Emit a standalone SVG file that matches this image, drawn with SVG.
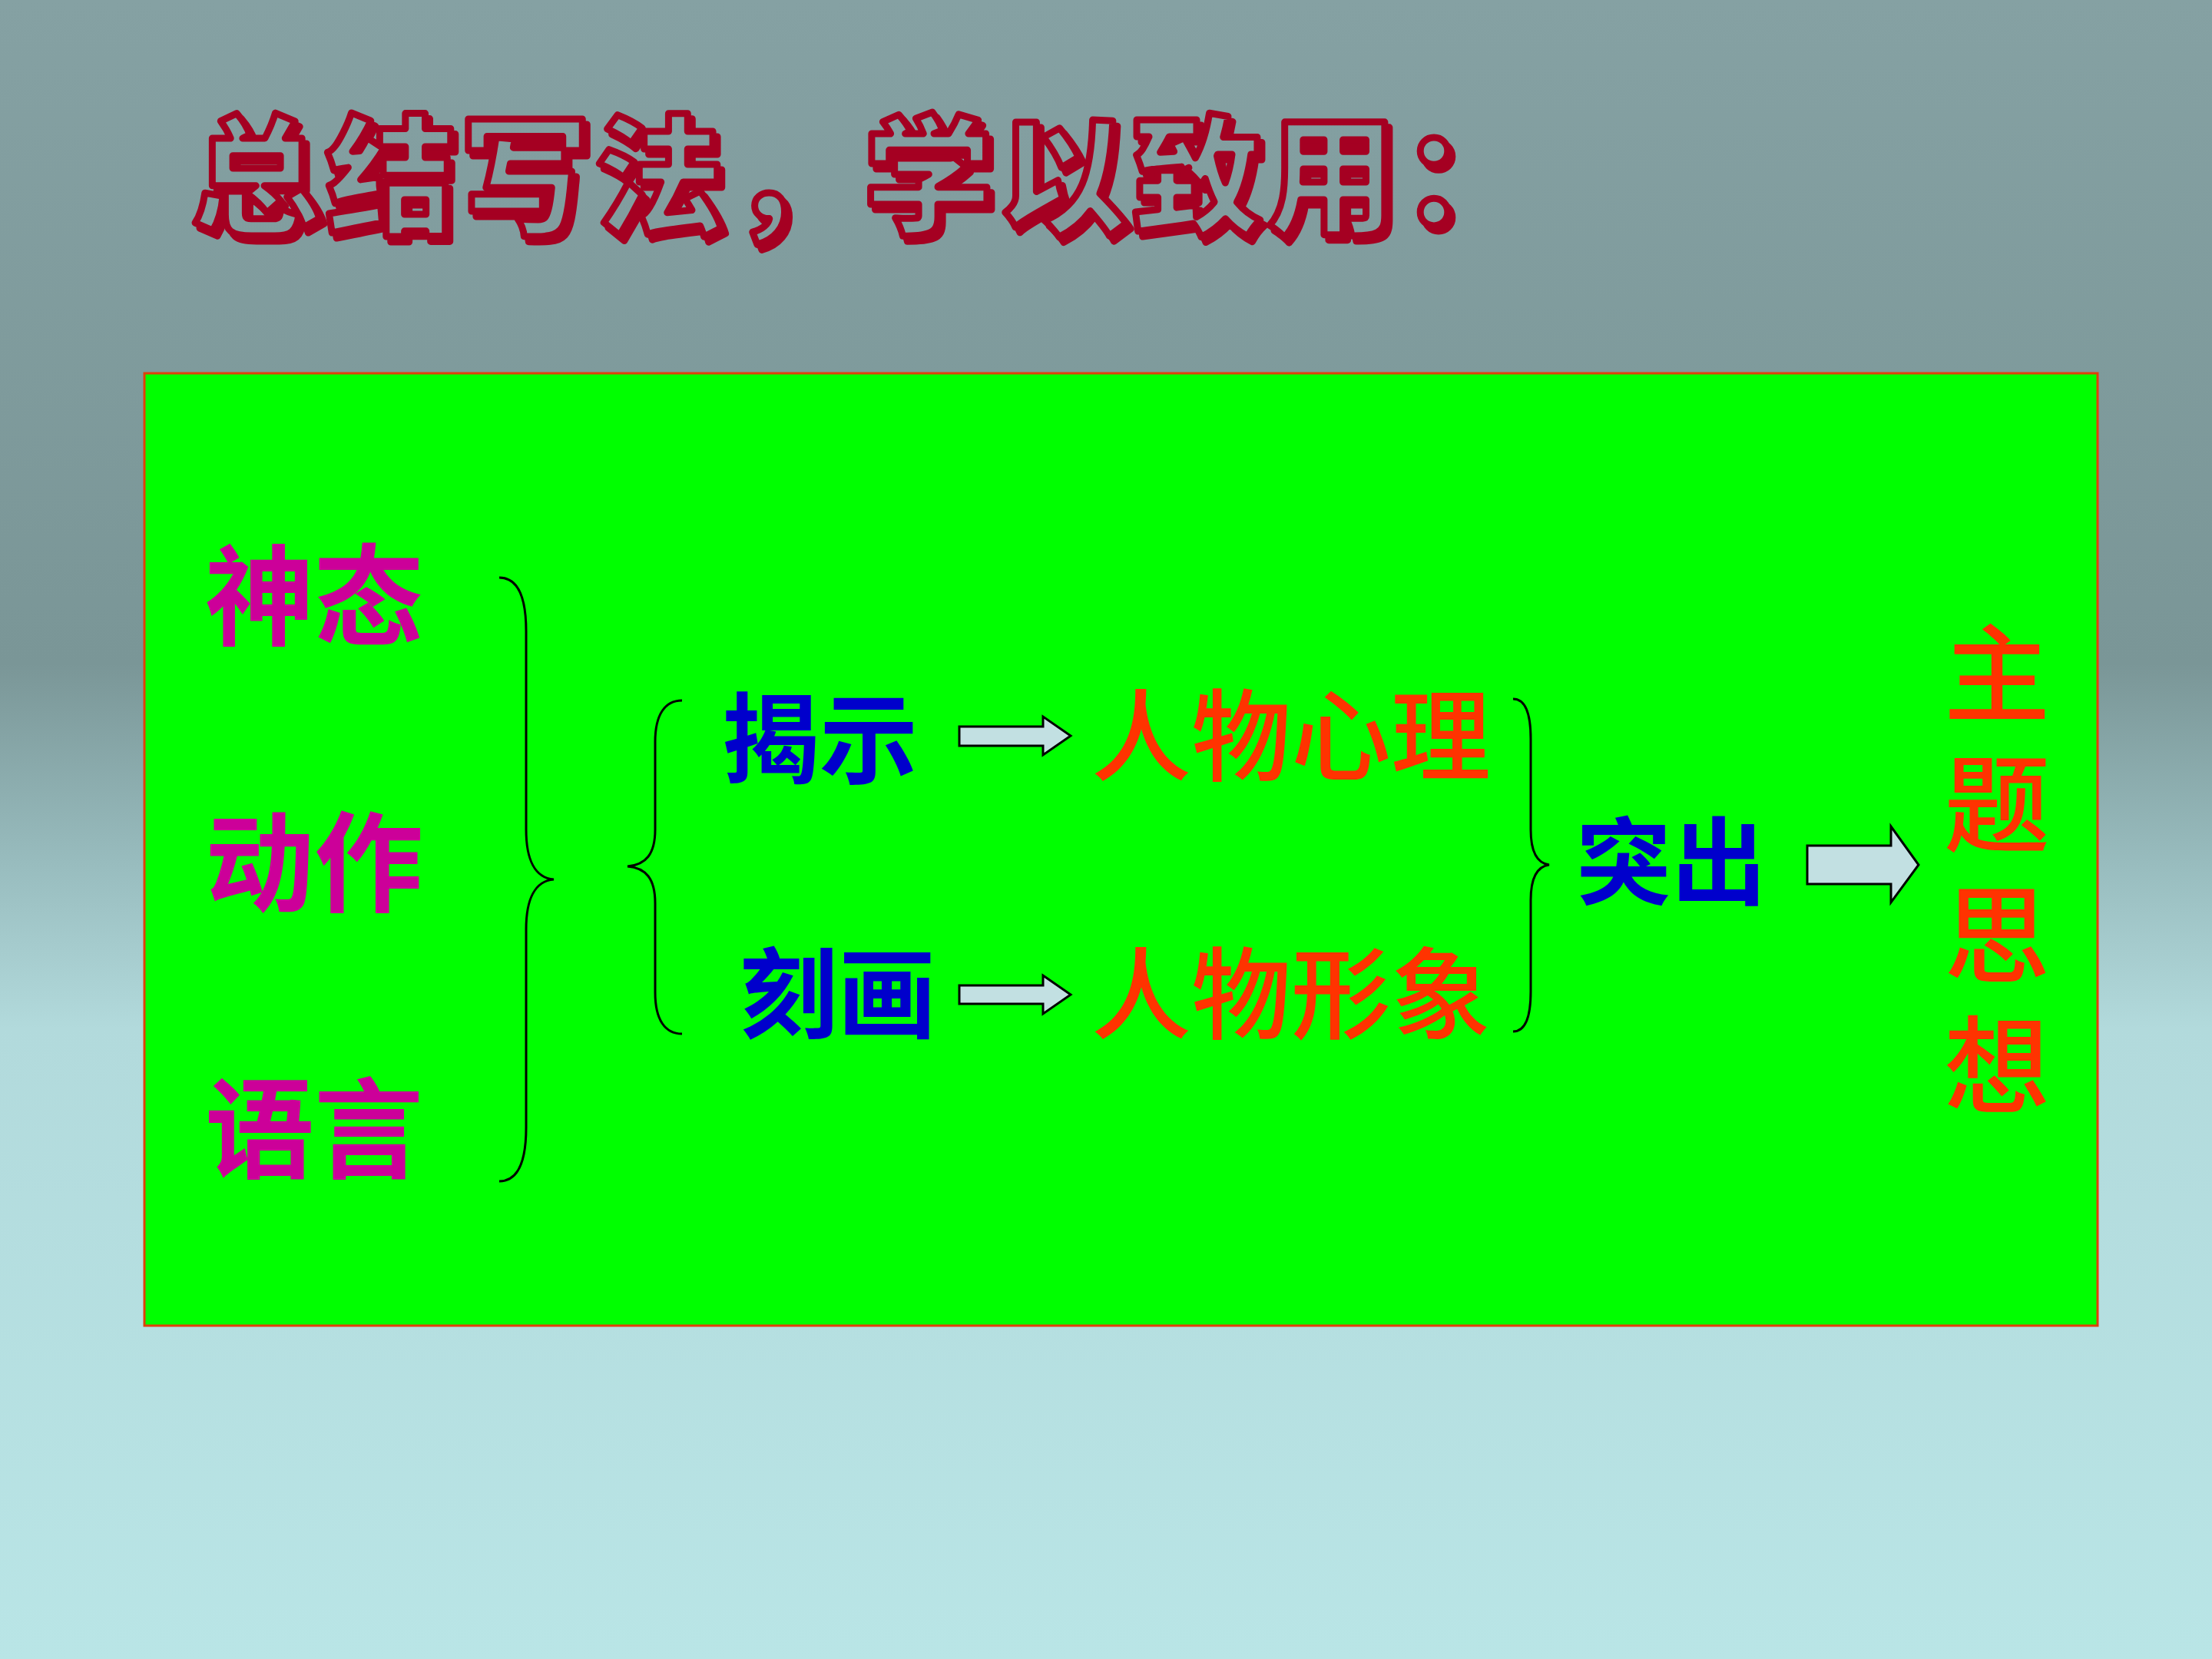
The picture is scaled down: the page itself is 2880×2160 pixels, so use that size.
<svg xmlns="http://www.w3.org/2000/svg" width="2880" height="2160" viewBox="0 0 2880 2160">
  <defs>
    <linearGradient id="bg" gradientUnits="userSpaceOnUse" x1="0" y1="0" x2="0" y2="2160">
      <stop offset="0" stop-color="#85a1a3"/>
      <stop offset="0.40" stop-color="#7a9697"/>
      <stop offset="0.52" stop-color="#98bcbe"/>
      <stop offset="0.62" stop-color="#b2dadc"/>
      <stop offset="1" stop-color="#b9e5e6"/>
    </linearGradient>
    <filter id="shadow" x="-5%" y="-20%" width="110%" height="140%">
      <feFlood flood-color="#a50021" result="c"/>
      <feComposite in="c" in2="SourceAlpha" operator="in" result="s"/>
      <feOffset in="s" dx="6" dy="7" result="o"/>
      <feMerge>
        <feMergeNode in="o"/>
        <feMergeNode in="SourceGraphic"/>
      </feMerge>
    </filter>
    <style>
      .cjk { font-family: "Noto Sans CJK SC", "Noto Sans CJK TC", sans-serif; }
      .title { font-size: 168px; font-weight: 900; letter-spacing: 7px; }
      .mag { fill: #cc0099; font-size: 142px; font-weight: 700; }
      .blue { fill: #0000cc; font-size: 128px; font-weight: 700; }
      .red { fill: #ff3300; font-size: 130px; font-weight: 500; }
      .vert { fill: #ff3300; font-size: 138px; font-weight: 500; }
      .arrow { fill: #c2e0e2; stroke: #000000; stroke-width: 3; stroke-linejoin: miter; }
      .brace { fill: none; stroke: #000000; stroke-width: 3; }
    </style>
  </defs>

  <rect x="0" y="0" width="2880" height="2160" fill="url(#bg)"/>

  <g id="title" class="cjk title">
    <text x="250" y="292" fill="url(#bg)" stroke="#a50021" stroke-width="9" stroke-linejoin="round" filter="url(#shadow)">总结写法，学以致用：</text>
  </g>

  <g id="panel">
    <rect x="188" y="486" width="2543" height="1240" fill="#00ff00" stroke="#e0400a" stroke-width="3"/>
  </g>

  <g id="node-shentai" class="cjk"><text class="mag" x="267" y="829">神态</text></g>
  <g id="node-dongzuo" class="cjk"><text class="mag" x="267" y="1176">动作</text></g>
  <g id="node-yuyan" class="cjk"><text class="mag" x="267" y="1523">语言</text></g>

  <g id="node-jieshi" class="cjk"><text class="blue" x="939" y="1010">揭示</text></g>
  <g id="node-kehua" class="cjk"><text class="blue" x="963" y="1342">刻画</text></g>

  <g id="node-xinli" class="cjk"><text class="red" x="1421" y="1006">人物心理</text></g>
  <g id="node-xingxiang" class="cjk"><text class="red" x="1421" y="1342">人物形象</text></g>

  <g id="node-tuchu" class="cjk"><text class="blue" x="2052" y="1168" style="font-size:124px">突出</text></g>

  <g id="node-zhuti" class="cjk">
    <text class="vert" x="2600" y="807" writing-mode="vertical-rl" style="letter-spacing:32px">主题思想</text>
  </g>

  <g id="connectors">
    <path class="brace" d="M650,752 C673,752 685,776 685,822 L685,1080 C685,1120 697,1143 721,1145 C697,1147 685,1170 685,1210 L685,1468 C685,1514 673,1538 650,1538"/>
    <path class="brace" d="M888,912 C866,912 853,930 853,966 L853,1080 C853,1112 841,1126 817,1128 C841,1130 853,1144 853,1176 L853,1292 C853,1328 866,1346 888,1346"/>
    <path class="brace" d="M1970,910 C1985,910 1993,928 1993,962 L1993,1080 C1993,1110 2002,1124 2017,1126 C2002,1128 1993,1142 1993,1172 L1993,1291 C1993,1325 1985,1343 1970,1343"/>
    <path class="arrow" d="M1249,946 L1358,946 L1358,933 L1394,958 L1358,983 L1358,971 L1249,971 Z"/>
    <path class="arrow" d="M1249,1283 L1358,1283 L1358,1270 L1394,1295 L1358,1320 L1358,1307 L1249,1307 Z"/>
    <path class="arrow" d="M2353,1101 L2462,1101 L2462,1076 L2498,1126 L2462,1175 L2462,1151 L2353,1151 Z"/>
  </g>
</svg>
